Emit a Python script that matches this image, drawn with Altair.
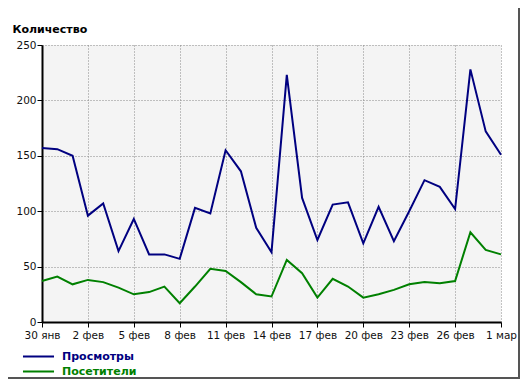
import altair as alt
import pandas as pd

days = ["30 янв", "31 янв", "1 фев", "2 фев", "3 фев", "4 фев", "5 фев", "6 фев",
        "7 фев", "8 фев", "9 фев", "10 фев", "11 фев", "12 фев", "13 фев", "14 фев",
        "15 фев", "16 фев", "17 фев", "18 фев", "19 фев", "20 фев", "21 фев", "22 фев",
        "23 фев", "24 фев", "25 фев", "26 фев", "27 фев", "28 фев", "1 мар"]
views = [157, 156, 150, 96, 107, 64, 93, 61, 61, 57, 103, 98, 155, 136, 85, 63,
         223, 112, 74, 106, 108, 71, 104, 73, 100, 128, 122, 102, 228, 172, 151]
visitors = [37, 41, 34, 38, 36, 31, 25, 27, 32, 17, 32, 48, 46, 36, 25, 23,
            56, 44, 22, 39, 32, 22, 25, 29, 34, 36, 35, 37, 81, 65, 61]
tick_labels = ["30 янв", "2 фев", "5 фев", "8 фев", "11 фев", "14 фев",
               "17 фев", "20 фев", "23 фев", "26 фев", "1 мар"]
series = ["Просмотры", "Посетители"]
colors = ["#000080", "#008000"]

df = pd.DataFrame({
    "day": days * 2,
    "value": views + visitors,
    "series": [series[0]] * len(days) + [series[1]] * len(days),
})

FONT = "DejaVu Sans"

lines = alt.Chart(df).mark_line(strokeWidth=2).encode(
    x=alt.X("day:N", sort=days,
            scale=alt.Scale(type="point", padding=0),
            axis=alt.Axis(values=tick_labels, labelAngle=0, title=None,
                          domainColor="black", domainWidth=2,
                          tickColor="black", tickSize=5, tickWidth=1,
                          labelFont=FONT, labelFontSize=10.5, labelColor="#111",
                          labelPadding=3,
                          grid=True, gridColor="#888", gridDash=[1, 2], gridWidth=1)),
    y=alt.Y("value:Q",
            scale=alt.Scale(domain=[0, 250], nice=False),
            axis=alt.Axis(values=[0, 50, 100, 150, 200, 250],
                          title="Количество", titleAngle=0, titleAlign="left",
                          titleBaseline="alphabetic", titleX=-30, titleY=-13,
                          titleFont=FONT, titleFontSize=11, titleFontWeight="bold",
                          titleColor="black",
                          domainColor="black", domainWidth=2,
                          tickColor="black", tickSize=5, tickWidth=1,
                          labelFont=FONT, labelFontSize=10.5, labelColor="#111",
                          labelPadding=1,
                          grid=True, gridColor="#888", gridDash=[1, 2], gridWidth=1)),
    color=alt.Color("series:N",
                    scale=alt.Scale(domain=series, range=colors),
                    legend=alt.Legend(
                        title=None, orient="none", legendX=-10, legendY=305,
                        symbolType="M-3,0H3", symbolSize=107, symbolStrokeWidth=2,
                        labelFont=FONT, labelFontSize=11, labelFontWeight="bold",
                        labelOffset=17, rowPadding=3,
                        labelColor=alt.ExprRef(
                            "datum.label === 'Просмотры' ? '#000080' : '#008000'"),
                    )),
)

shadow_right = alt.Chart(df).mark_rule(color="#555", strokeWidth=2).encode(
    x=alt.value(477), y=alt.value(-40), y2=alt.value(334))
shadow_bottom = alt.Chart(df).mark_rule(color="#555", strokeWidth=2).encode(
    x=alt.value(-39), x2=alt.value(478), y=alt.value(333))

chart = alt.layer(lines, shadow_right, shadow_bottom).properties(
    width=459, height=277,
    autosize=alt.AutoSizeParams(type="none"),
    padding={"left": 34, "top": 37, "right": 19, "bottom": 57},
    background="white",
).configure_view(fill="#f4f4f4", stroke=None)

chart.save("out.html", embed_options={"renderer": "svg", "actions": False})
